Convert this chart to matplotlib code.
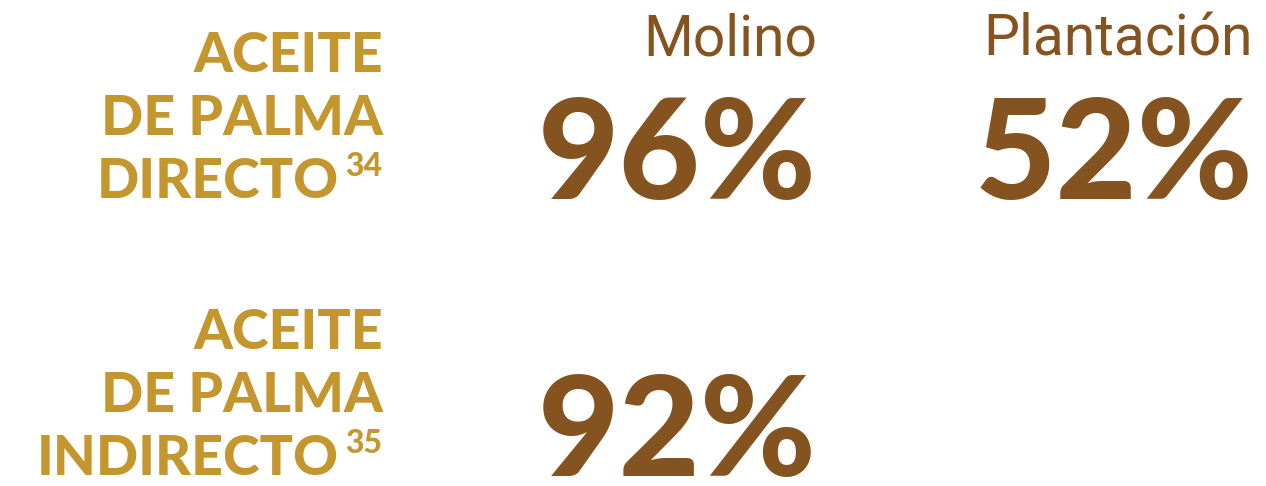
import matplotlib
matplotlib.use("Agg")
import matplotlib.pyplot as plt
from matplotlib import font_manager

# palm oil traceability infographic: rows are oil type, columns are mill / plantation

ROW_LINES = [["ACEITE", "DE PALMA", "DIRECTO"],
             ["ACEITE", "DE PALMA", "INDIRECTO"]]
ROW_NOTES = ["34", "35"]
COLUMNS = ["Molino", "Plantación"]
MOLINO_PCT = [96, 92]
PLANTACION_PCT = [52, None]

GOLD = "#C4962E"
BROWN = "#85531F"

W, H = 1266, 486

names = {f.name for f in font_manager.fontManager.ttflist}
HEAVY = "Lato" if "Lato" in names else "DejaVu Sans"
LIGHT = "Roboto" if "Roboto" in names else "DejaVu Sans"

fig = plt.figure(figsize=(W / 100, H / 100), dpi=100)
fig.patch.set_facecolor("white")


def put(x, y, s, **kw):
    # pixel coords measured from top-left of the picture
    fig.text(x / W, 1 - y / H, s, **kw)


label_right = 383
row_base = [72, 349]
line_gap = 63
for r, lines in enumerate(ROW_LINES):
    for i, line in enumerate(lines):
        yb = row_base[r] + i * line_gap
        right = label_right if i < len(lines) - 1 else label_right - 44
        put(right, yb, line, ha="right", va="baseline", color=GOLD,
            fontsize=40, family=HEAVY, fontweight="black")
    put(label_right - 1, row_base[r] + 2 * line_gap - 22, ROW_NOTES[r],
        ha="right", va="baseline", color=GOLD, fontsize=23,
        family=HEAVY, fontweight="black")

col_right = [817, 1253]
for c, name in enumerate(COLUMNS):
    put(col_right[c], 56, name, ha="right", va="baseline", color=BROWN,
        fontsize=41, family=LIGHT, fontweight="normal")

for c, vals in enumerate([MOLINO_PCT, PLANTACION_PCT]):
    for r, v in enumerate(vals):
        if v is None:
            continue
        yb = row_base[r] + 2 * line_gap + 1
        put(col_right[c], yb, f"{v}%", ha="right", va="baseline", color=BROWN,
            fontsize=101, family=HEAVY, fontweight="black")

fig.savefig("out.png", dpi=100, facecolor="white")
